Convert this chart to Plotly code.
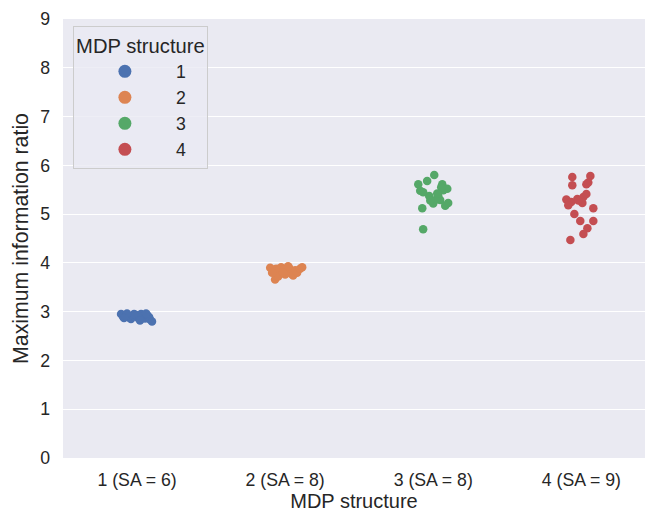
import plotly.graph_objects as go

# Tick labels along the categorical axis
categories = ["1 (SA = 6)", "2 (SA = 8)", "3 (SA = 8)", "4 (SA = 9)"]
structure_names = ["1", "2", "3", "4"]

# Maximum information ratio per run, one list per MDP structure
ratio_1 = [2.95, 2.90, 2.92, 2.88, 2.85, 2.91, 2.93, 2.87, 2.95, 2.90,
           2.86, 2.93, 2.89, 2.84, 2.80, 2.95, 2.96, 2.82, 2.96, 2.87]
ratio_2 = [3.90, 3.86, 3.88, 3.84, 3.91, 3.87, 3.82, 3.90, 3.78, 3.74,
           3.85, 3.80, 3.88, 3.91, 3.66, 3.72, 3.76, 3.80, 3.93, 3.80]
ratio_3 = [5.80, 5.68, 5.61, 5.61, 5.48, 5.49, 5.52, 5.37, 5.37, 5.45,
           5.29, 5.23, 5.22, 5.12, 5.17, 5.30, 5.28, 5.55, 5.42, 4.69]
ratio_4 = [5.76, 5.78, 5.59, 5.61, 5.30, 5.25, 5.31, 5.35, 5.41, 5.23,
           5.12, 5.00, 4.86, 4.86, 4.71, 4.59, 4.47, 5.65, 5.18, 5.28]

# Horizontal strip jitter (in category units) for each point
jitter_1 = [-0.108, -0.095, -0.074, -0.054, -0.041, -0.027, -0.007, 0.007, 0.027, 0.041,
            0.054, 0.068, 0.081, 0.088, 0.101, -0.020, -0.068, 0.020, 0.061, -0.088]
jitter_2 = [-0.101, -0.081, -0.061, -0.041, -0.027, -0.007, 0.014, 0.027, 0.041, 0.054,
            0.068, 0.081, 0.101, 0.115, -0.068, -0.047, 0.000, -0.088, 0.020, -0.014]
jitter_3 = [0.007, -0.041, -0.101, 0.061, -0.088, 0.068, 0.095, -0.027, 0.034, -0.068,
            0.047, 0.101, 0.000, -0.074, 0.081, 0.020, -0.020, 0.054, 0.027, -0.068]
jitter_4 = [-0.061, 0.061, -0.061, 0.034, -0.101, -0.068, -0.027, 0.014, 0.034, 0.007,
            0.081, -0.047, -0.007, 0.081, 0.041, 0.014, -0.074, 0.047, -0.088, -0.020]

ratios = [ratio_1, ratio_2, ratio_3, ratio_4]
jitters = [jitter_1, jitter_2, jitter_3, jitter_4]
colors = ["#4c72b0", "#dd8452", "#55a868", "#c44e52"]

FONT = "Liberation Sans, Arial, sans-serif"
TEXT = "#262626"

fig = go.Figure()
for i, (name, ys, js, c) in enumerate(zip(structure_names, ratios, jitters, colors)):
    # strip of points for this structure
    fig.add_trace(go.Scatter(
        x=[i + j for j in js],
        y=ys,
        mode="markers",
        name=name,
        legendgroup=name,
        showlegend=False,
        marker=dict(color=c, size=8.5, line=dict(width=0)),
    ))
    # legend entry with a larger swatch
    fig.add_trace(go.Scatter(
        x=[None],
        y=[None],
        mode="markers",
        name=name,
        legendgroup=name,
        marker=dict(color=c, size=13, line=dict(width=0)),
    ))

fig.update_layout(
    width=645,
    height=512,
    margin=dict(l=63, r=0, t=19, b=54),
    paper_bgcolor="white",
    plot_bgcolor="#eaeaf2",
    font=dict(family=FONT, color=TEXT, size=17.7),
    legend=dict(
        title=dict(text="MDP structure", side="top center", font=dict(size=20.2, color=TEXT)),
        font=dict(size=17.7, color=TEXT),
        x=0.017, y=0.984, xanchor="left", yanchor="top",
        bgcolor="rgba(234,234,242,0.8)",
        bordercolor="#cccccc",
        borderwidth=1,
        itemwidth=92,
        tracegroupgap=0,
    ),
    xaxis=dict(
        range=[-0.5, 3.43],
        tickvals=[0, 1, 2, 3],
        ticktext=categories,
        showgrid=False,
        zeroline=False,
        showline=False,
        ticks="",
        automargin=False,
        ticklabelstandoff=9,
        tickfont=dict(size=17.7, color=TEXT),
        title=dict(text="MDP structure", font=dict(size=20, color=TEXT), standoff=14),
    ),
    yaxis=dict(
        range=[0, 9],
        dtick=1,
        showgrid=True,
        gridcolor="white",
        gridwidth=1.4,
        zeroline=False,
        showline=False,
        ticks="",
        automargin=False,
        ticklabelstandoff=12,
        tickfont=dict(size=17.7, color=TEXT),
        title=dict(text="Maximum information ratio", font=dict(size=21.3, color=TEXT), standoff=5),
    ),
)

fig.write_html("out.html")
